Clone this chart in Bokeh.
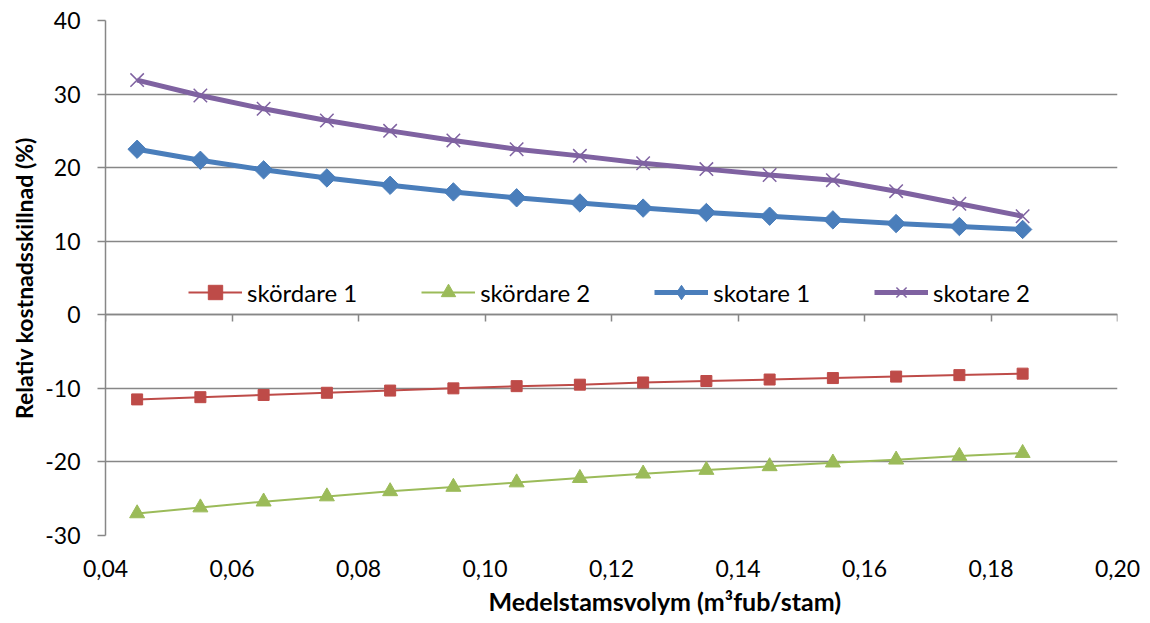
import math

from bokeh.plotting import figure
from bokeh.models import (LinearAxis, Legend, FixedTicker, CustomJSTickFormatter,
                          Range1d, Title, CDSView, IndexFilter)
from bokeh.embed import file_html
from bokeh.resources import INLINE

# Mean stem volume (m3fub/stem)
volym = [0.045, 0.055, 0.065, 0.075, 0.085, 0.095, 0.105, 0.115,
         0.125, 0.135, 0.145, 0.155, 0.165, 0.175, 0.185]

# Relative cost difference (%)
skordare_1 = [-11.5, -11.2, -10.9, -10.6, -10.3, -10.0, -9.7, -9.5,
              -9.2, -9.0, -8.8, -8.6, -8.4, -8.2, -8.0]
skordare_2 = [-27.0, -26.2, -25.4, -24.7, -24.0, -23.4, -22.8, -22.2,
              -21.6, -21.1, -20.6, -20.1, -19.7, -19.2, -18.8]
skotare_1 = [22.5, 21.0, 19.7, 18.6, 17.6, 16.7, 15.9, 15.2,
             14.5, 13.9, 13.4, 12.9, 12.4, 12.0, 11.6]
skotare_2 = [31.9, 29.8, 28.0, 26.4, 25.0, 23.7, 22.5, 21.6,
             20.6, 19.8, 19.0, 18.3, 16.8, 15.1, 13.4]

x_ticks = [0.04, 0.06, 0.08, 0.10, 0.12, 0.14, 0.16, 0.18, 0.20]
y_ticks = [-30, -20, -10, 0, 10, 20, 30, 40]

FONT = "Lato"
GRID = "#878787"

p = figure(width=1150, height=623, output_backend="svg", toolbar_location=None,
           x_range=Range1d(0.04, 0.20), y_range=Range1d(-30, 40),
           min_border_left=105, min_border_right=33, min_border_top=20,
           min_border_bottom=88, x_axis_location=None, y_axis_location=None)
p.outline_line_color = None
p.background_fill_color = "white"
p.border_fill_color = "white"

# y axis
yax = LinearAxis(ticker=FixedTicker(ticks=y_ticks),
                 formatter=CustomJSTickFormatter(code="return tick.toFixed(0);"))
yax.axis_line_color = GRID
yax.axis_line_width = 1.5
yax.major_tick_line_color = GRID
yax.major_tick_line_width = 1.5
yax.major_tick_out = 8
yax.major_tick_in = 0
yax.minor_tick_line_color = None
yax.major_label_text_font = FONT
yax.major_label_text_font_size = "23px"
yax.major_label_text_color = "#000000"
yax.major_label_standoff = 17
p.add_layout(yax, "left")

ytitle = Title(text="Relativ kostnadsskillnad (%)", align="center",
               text_font=FONT, text_font_size="23px", text_font_style="bold",
               text_color="#000000", standoff=10)
p.add_layout(ytitle, "left")

# x axis labels along the bottom
comma_fmt = CustomJSTickFormatter(code="return tick.toFixed(2).replace('.', ',');")
xax = LinearAxis(ticker=FixedTicker(ticks=x_ticks), formatter=comma_fmt)
xax.axis_line_color = None
xax.major_tick_line_color = None
xax.minor_tick_line_color = None
xax.major_label_text_font = FONT
xax.major_label_text_font_size = "23px"
xax.major_label_text_color = "#000000"
xax.major_label_standoff = 18
p.add_layout(xax, "below")

# x axis title
xtitle = Title(text="Medelstamsvolym (m³fub/stam)", align="left", offset=383,
               text_font=FONT, text_font_size="25px", text_font_style="bold",
               text_color="#000000", standoff=8)
p.add_layout(xtitle, "below")

# tick marks hanging from the zero line
zax = LinearAxis(ticker=FixedTicker(ticks=x_ticks), fixed_location=0)
zax.axis_line_color = GRID
zax.axis_line_width = 1.5
zax.major_tick_line_color = GRID
zax.major_tick_line_width = 1.5
zax.major_tick_out = 7
zax.major_tick_in = 0
zax.minor_tick_line_color = None
zax.major_label_text_font_size = "0px"
zax.major_label_text_alpha = 0
p.add_layout(zax, "below")

p.xgrid.grid_line_color = None
p.ygrid.ticker = FixedTicker(ticks=y_ticks)
p.ygrid.grid_line_color = GRID
p.ygrid.grid_line_width = 1.5

RED, GREEN, BLUE, PURPLE = "#BE4B48", "#9BBB59", "#4A7EBB", "#7F62A1"

r1 = p.line(volym, skordare_1, line_color=RED, line_width=2)
m1 = p.scatter(volym, skordare_1, marker="square", size=11,
               fill_color=RED, line_color=RED)
r2 = p.line(volym, skordare_2, line_color=GREEN, line_width=2)
m2 = p.scatter(volym, skordare_2, marker="triangle", size=15,
               fill_color=GREEN, line_color=GREEN)
r3 = p.line(volym, skotare_1, line_color=BLUE, line_width=5)
m3 = p.scatter(volym, skotare_1, marker="square", size=13, angle=math.pi / 4,
               fill_color=BLUE, line_color=BLUE)
r4 = p.line(volym, skotare_2, line_color=PURPLE, line_width=5)
m4 = p.scatter(volym, skotare_2, marker="x", size=19,
               line_color=PURPLE, line_width=1.5)

# diamond swatch for the skotare 1 legend entry; its single point sits
# inside the first rotated-square marker
k3 = p.scatter(volym, skotare_1, marker="diamond", size=12,
               fill_color=BLUE, line_color=BLUE,
               view=CDSView(filter=IndexFilter(indices=[0])))

legend = Legend(items=[("skördare 1", [r1, m1]), ("skördare 2", [r2, m2]),
                       ("skotare 1", [r3, k3]), ("skotare 2", [r4, m4])],
                orientation="horizontal", location=(83, 225))
legend.label_text_font = FONT
legend.label_text_font_size = "24px"
legend.label_text_color = "#000000"
legend.glyph_width = 54
legend.glyph_height = 36
legend.label_standoff = 5
legend.spacing = 64
legend.padding = 1
legend.margin = 0
legend.border_line_color = None
legend.background_fill_alpha = 0
p.add_layout(legend, "center")

open("out.html", "w").write(file_html(p, INLINE))
